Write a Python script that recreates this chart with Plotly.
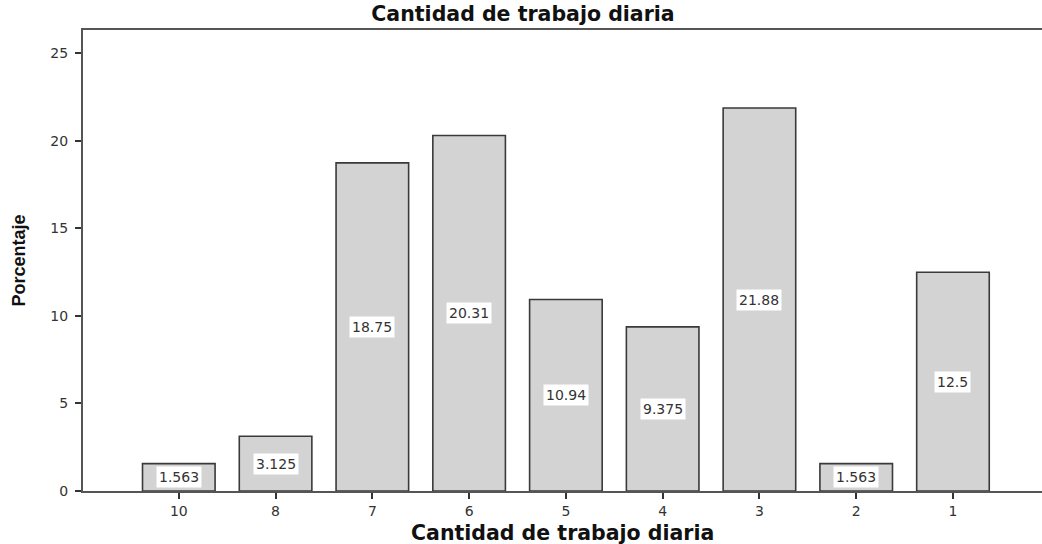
import plotly.graph_objects as go

categories = ["10", "8", "7", "6", "5", "4", "3", "2", "1"]
values = [1.563, 3.125, 18.75, 20.31, 10.94, 9.375, 21.88, 1.563, 12.5]
labels = ["1.563", "3.125", "18.75", "20.31", "10.94", "9.375", "21.88", "1.563", "12.5"]

x = list(range(len(categories)))

fig = go.Figure()
fig.add_trace(go.Bar(
    x=x, y=values, width=0.75,
    marker=dict(color="#d3d3d3", line=dict(color="#3a3a3a", width=1.6)),
    showlegend=False, hoverinfo="skip",
))

for xi, v, t in zip(x, values, labels):
    fig.add_annotation(
        x=xi, y=v / 2, text=t, showarrow=False,
        bgcolor="white", borderpad=2,
        font=dict(family="DejaVu Sans", size=14, color="#333333"),
    )

fig.add_annotation(
    xref="paper", yref="paper", x=0, y=0.5, xshift=-65, xanchor="center", yanchor="middle",
    text="<b>Porcentaje</b>", textangle=-90, showarrow=False,
    font=dict(family="Liberation Sans Narrow, Arial Narrow, Liberation Sans", size=18, color="#111111"),
)
fig.add_annotation(
    xref="paper", yref="paper", x=0.5, y=0, yshift=-42, xanchor="center", yanchor="middle",
    text="<b>Cantidad de trabajo diaria</b>", showarrow=False,
    font=dict(family="DejaVu Sans", size=20.5, color="#111111"),
)

fig.update_layout(
    width=1042, height=544,
    margin=dict(l=83, r=0, t=30, b=53),
    plot_bgcolor="white", paper_bgcolor="white",
    title=dict(text="<b>Cantidad de trabajo diaria</b>", x=523 / 1042, xanchor="center",
               y=1 - 14 / 544, yanchor="middle",
               font=dict(family="DejaVu Sans", size=20.5, color="#111111")),
    xaxis=dict(
        tickmode="array", tickvals=x, ticktext=categories,
        range=[-0.99, 8.92],
        showline=True, linecolor="#555555", linewidth=2, mirror=True,
        ticks="outside", ticklen=6, tickwidth=2, tickcolor="#333333",
        showgrid=False, zeroline=False,
        tickfont=dict(family="DejaVu Sans", size=14, color="#333333"),
    ),
    yaxis=dict(
        range=[0, 26.34], tickvals=[0, 5, 10, 15, 20, 25],
        showline=True, linecolor="#555555", linewidth=2,
        ticks="outside", ticklen=6, tickwidth=2, tickcolor="#333333",
        ticklabelstandoff=4,
        showgrid=False, zeroline=False,
        tickfont=dict(family="DejaVu Sans", size=14, color="#333333"),
    ),
)

fig.write_html("out.html", config={"displayModeBar": False},
               post_script="document.body.style.margin='0';document.body.style.overflow='hidden';")
